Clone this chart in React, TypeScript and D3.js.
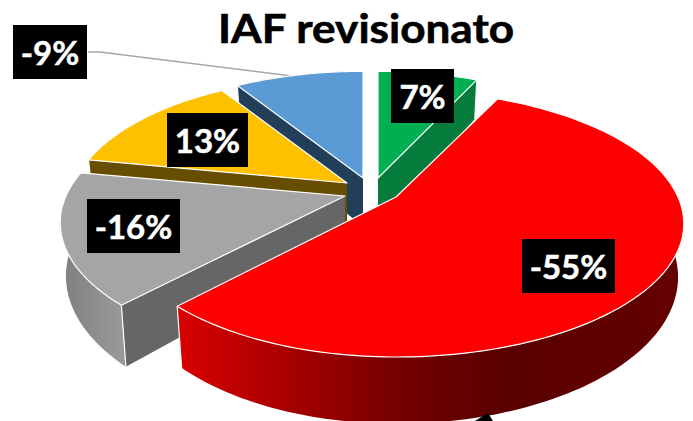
import React, { useMemo } from "react";
import * as d3 from "d3";

const categories = ["A", "B", "C", "D", "E"];
const shares = [7, 55, 16, 13, 9];
const labels = ["7%", "-55%", "-16%", "13%", "-9%"];
const topColors = ["#00b050", "#ff0000", "#a5a5a5", "#ffc000", "#5b9bd5"];
const cutColors = ["#067c3c", "#800000", "#666666", "#664d00", "#223f5a"];

const W = 693, H = 421;
const PERSP = 0.2, TILT = 128;
const DEPTH0 = 50, DEPTH_K = 0.1, SHRINK = 0.98;
// screen anchor of each exploded slice + radius on its right and left side
const anchors: Record<string, { cx: number; cy: number; Rr: number; Rl: number }> = {
  A: { cx: 378, cy: 178, Rr: 274, Rl: 274 },
  B: { cx: 396, cy: 197, Rr: 282, Rl: 273 },
  C: { cx: 345, cy: 196, Rr: 279, Rl: 279 },
  D: { cx: 347, cy: 183, Rr: 273, Rl: 273 },
  E: { cx: 363, cy: 178, Rr: 274, Rl: 274 },
};
const boxes: Record<string, [number, number, number, number]> = {
  A: [391, 69, 63, 54],
  B: [522, 239, 93, 54],
  C: [87, 199, 93, 54],
  D: [167, 113, 81, 54],
  E: [13, 25, 74, 54],
};
const drawOrder = ["E", "A", "D", "C", "B"];

type P = [number, number];

export default function App() {
  const arcs = useMemo(() => {
    const pie = d3.pie<number>().sort(null).value((d) => d);
    return pie(shares);
  }, []);
  const line = d3.line<P>();

  const top = (k: string, t: number): P => {
    const a = anchors[k];
    const X = Math.sin(t), Y = Math.cos(t);
    const s = 1 / (1 + PERSP * Y);
    const R = X >= 0 ? a.Rr : a.Rl;
    return [a.cx + R * X * s, a.cy - TILT * Y * s];
  };
  const down = (k: string, p: P): P => {
    const a = anchors[k];
    return [a.cx + (p[0] - a.cx) * SHRINK, p[1] + DEPTH0 + (p[1] - 190) * DEPTH_K];
  };

  const faces = (i: number) => {
    const k = categories[i];
    const { startAngle: s, endAngle: e } = arcs[i];
    const a = anchors[k];
    const apex: P = [a.cx, a.cy];
    const n = Math.ceil((e - s) / 0.02);
    const rim = d3.range(n + 1).map((j) => top(k, s + ((e - s) * j) / n));
    const rimDown = rim.map((p) => down(k, p));
    const apexDown = down(k, apex);
    return {
      topPath: line([apex, ...rim])! + "Z",
      rimPath: line([...rim, ...rimDown.slice().reverse()])! + "Z",
      cutA: line([apex, rim[0], rimDown[0], apexDown])! + "Z",
      cutB: line([apex, rim[n], rimDown[n], apexDown])! + "Z",
      edgeA: line([rim[0], rimDown[0]])!,
      edgeB: line([rim[n], rimDown[n]])!,
    };
  };

  const rimFill: Record<string, string> = { B: "url(#redRim)", C: "url(#grayRim)" };

  return (
    <svg
      width={W}
      height={H}
      viewBox={`0 0 ${W} ${H}`}
      style={{ position: "absolute", left: 0, top: 0, background: "#fff", overflow: "hidden" }}
    >
      <defs>
        <linearGradient id="redRim" gradientUnits="userSpaceOnUse" x1="180" x2="680" y1="0" y2="0">
          <stop offset="0" stopColor="#d80000" />
          <stop offset="0.25" stopColor="#a00000" />
          <stop offset="0.45" stopColor="#720000" />
          <stop offset="0.65" stopColor="#5a0000" />
          <stop offset="1" stopColor="#640000" />
        </linearGradient>
        <linearGradient id="grayRim" gradientUnits="userSpaceOnUse" x1="62" x2="130" y1="0" y2="0">
          <stop offset="0" stopColor="#808080" />
          <stop offset="1" stopColor="#9c9c9c" />
        </linearGradient>
      </defs>

      <text
        x={366}
        y={43}
        textAnchor="middle"
        textLength={296}
        lengthAdjust="spacingAndGlyphs"
        fontFamily="Lato"
        fontWeight={700}
        fontSize={40}
        fill="#000"
        stroke="#000"
        strokeWidth={0.6}
      >
        IAF revisionato
      </text>

      <polyline points="88,52 100,52 300,77" fill="none" stroke="#a6a6a6" strokeWidth={1.5} />

      {drawOrder.map((k) => {
        const i = categories.indexOf(k);
        const f = faces(i);
        const c = cutColors[i];
        return (
          <g key={k} stroke="#ffffff" strokeWidth={1.2} strokeLinejoin="round">
            <path d={f.cutB} fill={c} stroke="none" />
            <path d={f.cutA} fill={c} stroke="none" />
            <path d={f.rimPath} fill={rimFill[k] ?? c} stroke="none" />
            <path d={f.edgeA} fill="none" />
            <path d={f.edgeB} fill="none" />
            <path d={f.topPath} fill={topColors[i]} />
          </g>
        );
      })}

      <polygon points="475,421 488,413 493,421" fill="#000" />

      {categories.map((k, i) => {
        const [x, y, w, h] = boxes[k];
        return (
          <g key={k}>
            <rect x={x} y={y} width={w} height={h} fill="#000" />
            <text
              x={x + w / 2}
              y={y + h / 2 + 13}
              textAnchor="middle"
              fontFamily="Lato"
              fontWeight={700}
              fontSize={33}
              fill="#fff"
              stroke="#fff"
              strokeWidth={0.5}
            >
              {labels[i]}
            </text>
          </g>
        );
      })}
    </svg>
  );
}
